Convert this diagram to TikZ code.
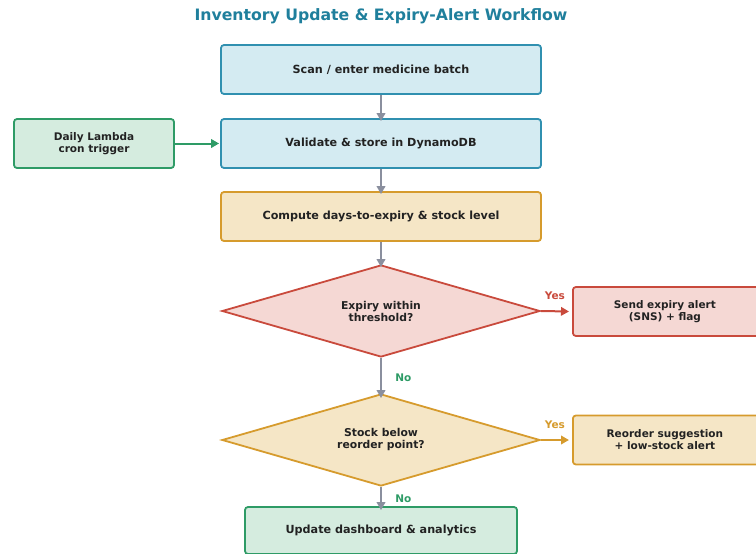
\documentclass[tikz,border=0pt]{standalone}
\usepackage{fontspec}
\setmainfont{DejaVu Sans}
\usetikzlibrary{shapes.geometric,arrows.meta}
\definecolor{titlecol}{HTML}{1F7F9C}
\definecolor{txt}{HTML}{222222}
\definecolor{bluefill}{HTML}{D4EBF2}
\definecolor{blueline}{HTML}{3090B0}
\definecolor{greenfill}{HTML}{D5ECDF}
\definecolor{greenline}{HTML}{2E9B66}
\definecolor{orangefill}{HTML}{F5E6C6}
\definecolor{orangeline}{HTML}{D69B2D}
\definecolor{redfill}{HTML}{F5D8D4}
\definecolor{redline}{HTML}{C94A3C}
\definecolor{grayarrow}{HTML}{8A8F9E}
\tikzset{
  x=1pt, y=-1pt,
  boxbase/.style={rectangle, rounded corners=3pt, line width=1.8pt, align=center,
    font=\fontsize{11.2}{12.5}\selectfont\bfseries, text=txt, inner sep=0pt},
  sidetext/.style={font=\fontsize{10.5}{12}\selectfont\bfseries},
  bluebox/.style={boxbase, draw=blueline, fill=bluefill},
  greenbox/.style={boxbase, draw=greenline, fill=greenfill},
  orangebox/.style={boxbase, draw=orangeline, fill=orangefill},
  redbox/.style={boxbase, draw=redline, fill=redfill},
  decision/.style={diamond, aspect=3.46, line width=1.8pt, align=center, inner sep=0pt,
    font=\fontsize{10.8}{12}\selectfont\bfseries, text=txt},
  flow/.style={line width=2pt, -{Triangle[length=8pt,width=8.5pt]}},
  lbl/.style={font=\fontsize{10.5}{12}\selectfont\bfseries},
}
\begin{document}
\begin{tikzpicture}
\useasboundingbox (0,0) rectangle (756,554);
\node[font=\fontsize{15.7}{18}\selectfont\bfseries, text=titlecol] (title) at (381,16) {Inventory Update \& Expiry-Alert Workflow};

\node[bluebox, minimum width=320pt, minimum height=49pt] (scan) at (381,69.5) {Scan / enter medicine batch};
\node[bluebox, minimum width=320pt, minimum height=49pt] (store) at (381,143.5) {Validate \& store in DynamoDB};
\node[greenbox, sidetext, minimum width=160pt, minimum height=49pt] (cron) at (94,143.5) {Daily Lambda\\cron trigger};
\node[orangebox, minimum width=320pt, minimum height=49pt] (compute) at (381,216.5) {Compute days-to-expiry \& stock level};

\node[decision, draw=redline, fill=redfill, minimum width=318pt, minimum height=92pt] (expiry) at (381,311) {Expiry within\\threshold?};
\node[redbox, sidetext, minimum width=190pt, minimum height=49pt, anchor=west] (alert) at (572,311.5) {\hspace*{-6pt}Send expiry alert\\\hspace*{-6pt}(SNS) + flag};

\node[decision, draw=orangeline, fill=orangefill, minimum width=318pt, minimum height=92pt] (stock) at (381,440) {Stock below\\reorder point?};
\node[orangebox, sidetext, minimum width=190pt, minimum height=49pt, anchor=west] (reorder) at (572,440) {\hspace*{-6pt}Reorder suggestion\\\hspace*{-6pt}+ low-stock alert};

\node[greenbox, minimum width=272pt, minimum height=47pt] (dash) at (381,530.5) {Update dashboard \& analytics};

\draw[flow, draw=grayarrow] (scan.south) -- ([yshift=-3pt]store.north);
\draw[flow, draw=greenline] (cron.east) -- ([xshift=-1pt]store.west);
\draw[flow, draw=grayarrow] (store.south) -- ([yshift=-3pt]compute.north);
\draw[flow, draw=grayarrow] (compute.south) -- ([yshift=-3pt]expiry.north);
\draw[flow, draw=redline] (expiry.east) -- node[lbl, text=redline, above=7pt] {Yes} ([xshift=-3pt]alert.west);
\draw[flow, draw=grayarrow] (expiry.south) -- node[lbl, text=greenline, right=10pt] {No} ([yshift=-5pt]stock.north);
\draw[flow, draw=orangeline] (stock.east) -- node[lbl, text=orangeline, above=7pt] {Yes} ([xshift=-3pt]reorder.west);
\draw[flow, draw=grayarrow] (stock.south) -- node[lbl, text=greenline, right=10pt] {No} ([yshift=-4pt]dash.north);
\end{tikzpicture}
\end{document}
